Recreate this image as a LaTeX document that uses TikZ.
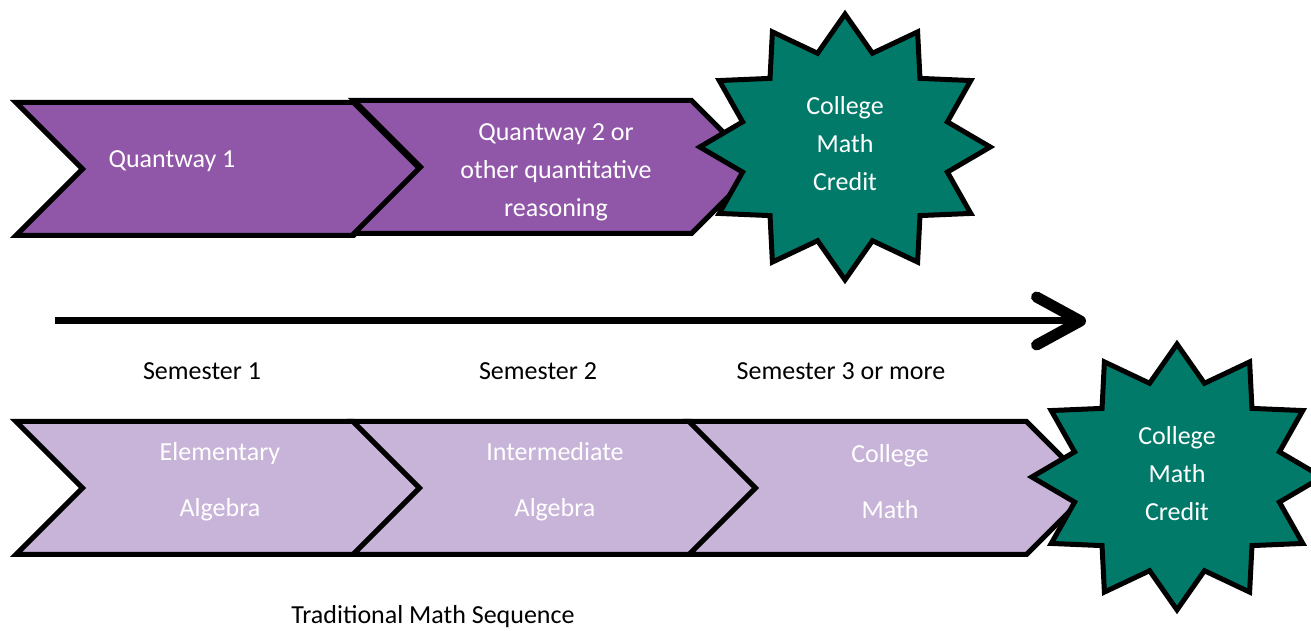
\documentclass[tikz,border=0pt]{standalone}
\usepackage{fontspec}
\setmainfont{Carlito}
\usepackage{tikz}
\usetikzlibrary{arrows.meta,positioning,shapes.geometric,shapes.symbols,calc}

\definecolor{qwpurple}{HTML}{9057A8}
\definecolor{tradlilac}{HTML}{C8B4D8}
\definecolor{credteal}{HTML}{017A6A}

\begin{document}
\begin{tikzpicture}[
  x=0.5pt, y=0.5pt,
  chev/.style={signal, signal from=west, signal to=east, signal pointer angle=90, draw=black, line width=2.5pt, minimum width=202pt, minimum height=66.5pt, inner sep=0pt},
  qw/.style={chev, fill=qwpurple},
  trad/.style={chev, fill=tradlilac},
  burst/.style={star, star points=12, star point ratio=1.37, draw=black, line width=2.5pt, fill=credteal, minimum size=137pt, inner sep=0pt, xscale=1.06, yscale=0.97, transform shape},
  wtxt/.style={text=white, align=center, font=\fontsize{13}{19}\selectfont},
  ltxt/.style={text=white, align=center, font=\fontsize{13}{28}\selectfont},
  btxt/.style={text=black, font=\fontsize{13}{16}\selectfont},
  tline/.style={line width=3.5pt, -{Straight Barb[length=22pt, width=24pt, line width=5.5pt, round]}}
]
  \useasboundingbox (0,0) rectangle (1311,631);

  % Quantway pathway
  \node[qw] (q1) at (218,462) {};
  \node[qw] (q2) at (556,464) {};
  \node[burst] (cr1) at (845,484) {};
  \node[wtxt] (q1t) at (172,470) {Quantway 1};
  \node[wtxt] (q2t) at (556,459) {Quantway 2 or\\other quantitative\\reasoning};
  \node[wtxt] (cr1t) at (845,487) {College\\Math\\Credit};

  % timeline
  \coordinate (t0) at (55,310);
  \coordinate (t1) at (1086,310);
  \draw[tline] (t0) -- (t1);
  \node[btxt] (s1) at (202,260) {Semester 1};
  \node[btxt] (s2) at (538,260) {Semester 2};
  \node[btxt] (s3) at (841,260) {Semester 3 or more};

  % traditional sequence
  \node[trad] (e1) at (218,143) {};
  \node[trad] (e2) at (555,143) {};
  \node[trad] (e3) at (891,143) {};
  \node[burst] (cr2) at (1177,154) {};
  \node[ltxt] (e1t) at (220,149) {Elementary\\Algebra};
  \node[ltxt] (e2t) at (555,149) {Intermediate\\Algebra};
  \node[ltxt] (e3t) at (890,149) {College\\Math};
  \node[wtxt] (cr2t) at (1177,157) {College\\Math\\Credit};
  \node[btxt] (trad) at (433,14) {Traditional Math Sequence};
\end{tikzpicture}
\end{document}
